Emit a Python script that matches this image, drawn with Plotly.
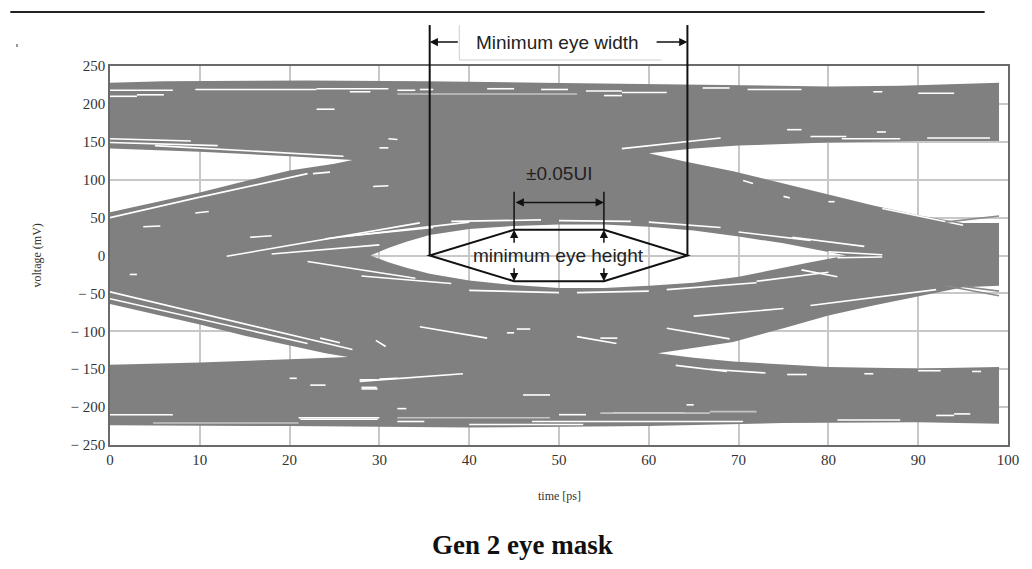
import plotly.graph_objects as go

# ---------------- axes ----------------
T_RANGE = [0, 100]
V_RANGE = [-250, 250]
X_TICKS = list(range(0, 101, 10))
Y_TICKS = [250, 200, 150, 100, 50, 0, -50, -100, -150, -200, -250]
Y_TICK_TEXT = ["250", "200", "150", "100", "50", "0",
               "\u2212 50", "\u2212 100", "\u2212 150", "\u2212 200", "\u2212 250"]

# ---------------- eye envelope (ps, mV) ----------------
TOP_T = [0, 6, 22, 35, 48, 60, 70, 80, 88, 95, 99]
TOP_V = [228, 230, 231, 230, 228, 226, 224, 223, 224, 227, 228]
BOT_T = [0, 20, 40, 60, 75, 90, 99]
BOT_V = [-224, -225, -227, -225, -221, -220, -222]

# top-left opening
W1_UP_T = [0, 10, 20, 27]
W1_UP_V = [141, 137, 131, 126]
W1_LO_T = [0, 5, 10, 15, 20, 25, 27]
W1_LO_V = [57, 70, 83, 98, 112, 121, 126]

# bottom-left opening
W2_UP_T = [0, 5, 10, 15, 20, 24, 26.5]
W2_UP_V = [-64, -78, -91, -106, -119, -129, -134]
W2_LO_T = [0, 10, 20, 26.5]
W2_LO_V = [-144, -141, -137, -134]

# central eye opening
W3_T = [29, 31, 33, 35.6, 40, 45, 50, 55, 60, 65, 70, 75, 78, 82]
W3_TOP = [0, 10, 18, 27, 35, 39, 41, 41, 38, 33, 25, 16, 9, 0]
W3_BOT = [0, -9, -16, -24, -33, -39, -43, -43, -40, -36, -28, -16, -9, 0]

# top-right opening
W4_UP_T = [60, 65, 70, 80, 90, 99]
W4_UP_V = [135, 141, 145, 149, 151, 151]
W4_LO_T = [60, 64, 69.4, 75, 80, 85, 90, 95, 99]
W4_LO_V = [135, 124, 111, 95, 80, 66, 53, 43, 43]

# bottom-right opening
W5_UP_T = [61, 65, 69.4, 75, 80, 85, 90, 95, 99]
W5_UP_V = [-129, -122, -114, -96, -79, -66, -54, -42, -40]
W5_LO_T = [61, 65, 69.4, 80, 90, 99]
W5_LO_V = [-129, -135, -140, -147, -149, -147]

# individual trace streaks (t0, v0, t1, v1)
WHITE_STREAKS = [
    (0, 218, 7, 218), (9.5, 219, 23, 219), (23, 220, 31, 220), (0, 210, 3, 210),
    (3, 212, 6, 212), (23, 193, 25, 193), (26.7, 216, 29, 216), (32, 218, 34, 218),
    (34.5, 219, 36, 219), (42, 220, 45, 220), (48, 219, 51, 219), (53, 217, 57, 217),
    (55, 211, 57, 211), (57, 215, 62, 215), (66, 221, 69, 221), (71, 219, 77, 219),
    (85, 216, 86, 216), (90, 214, 94, 214),
    (0, 154, 9, 151), (0, 149, 12, 145), (5, 145, 26, 131),
    (0, 50, 10, 77), (10, 77, 22, 108),
    (9.5, 56, 11, 58), (3.7, 38, 5.6, 39), (15.6, 24, 18, 26), (22.6, 108, 24.5, 110),
    (29.3, 91, 31, 92), (2.2, -25, 3, -25), (30, 142, 31, 142), (31, 154, 32, 153),
    (13, -1, 34.5, 43), (24, 22, 40, 44), (18, 2, 30, 14), (22, -8, 34, -30),
    (0, -48, 27, -124), (0, -57, 22, -116),
    (23.4, -109, 25.6, -115), (29.6, -112, 30.7, -120), (34.5, -94, 42, -109),
    (44.2, -102, 45, -102), (45.3, -97, 46.8, -97), (52, -107, 56.4, -116),
    (62, -96, 69, -110),
    (20, -162, 20.8, -162), (22.3, -171, 24, -171), (27.8, -164, 29.7, -164),
    (28, -174, 29.7, -174), (30, -163, 32, -162), (32, -202, 33, -202),
    (27.8, -166, 39.3, -156), (28, -176, 29.8, -176), (46, -184, 49, -184),
    (64.2, -197, 65, -197), (63, -145, 68.7, -153), (66.8, -150, 73, -155),
    (75.4, -157, 77.6, -157), (84, -156, 85, -156), (90, -152, 92.5, -152),
    (96, -153, 97, -153),
    (0, -210, 7, -210), (21, -214, 30, -214), (50, -210, 53, -210), (56, -208, 64, -208),
    (21.2, -216, 29.8, -216), (32, -219, 35, -219), (40, -223, 52.7, -223),
    (47, -219, 70.5, -219), (81, -217, 88, -217), (92, -211, 94, -211), (94, -209, 95.8, -209),
    (26, 25, 36, 37), (38, 45, 48, 47), (50, 46, 58, 45), (60, 44, 68, 37),
    (70, 31, 78, 20), (76, 24, 84, 12),
    (28, -27, 38, -37), (40, -46, 50, -49), (52, -49, 60, -47), (62, -45, 72, -36),
    (72, -34, 80, -22), (80, 5, 86, 1), (81, -3, 86, -2), (77, -19, 81, -28),
    (57, 141, 68, 155), (78, 157, 82, 157), (81.5, 154, 88, 154), (91, 155, 98, 155),
    (75.4, 166, 77, 166), (85.4, 163, 86.4, 163),
    (70.5, 99, 71.6, 95), (75, 78, 75.7, 76), (80, 71, 80.7, 71), (86, 62, 95, 40),
    (54.6, -109, 56.5, -109), (65, -80, 75, -70), (78, -66, 92, -45),
]
LIGHT_STREAKS = [
    (32, 213, 52, 213), (4.8, -221, 21, -221), (32, -214, 49, -214),
    (54.6, -208, 66.8, -208), (66.8, -206, 72, -206),
]
GREY_TAILS = [
    (93, -40, 99, -53), (95, -41, 99, -47), (93, 44, 99, 52),
]

# mask annotation values
EYE_WIDTH = (35.6, 64.3)
UI_WINDOW = (45.0, 55.0)
EYE_HALF_HEIGHT = 34
UI_ARROW_V = 70
UI_TICK_TOP = 84

GREY = "#808080"


def pts(ts, vs):
    return list(zip(ts, vs))


# single outline of the shaded area with the openings notched in
outline = []
outline += pts(TOP_T, TOP_V)
outline += pts(W4_UP_T, W4_UP_V)[::-1]
outline += pts(W4_LO_T, W4_LO_V)[1:]
outline += pts(W5_UP_T, W5_UP_V)[::-1]
outline += pts(W5_LO_T, W5_LO_V)[1:]
outline += pts(BOT_T, BOT_V)[::-1]
outline += pts(W2_LO_T, W2_LO_V)
outline += pts(W2_UP_T, W2_UP_V)[::-1][1:]
outline += pts(W1_LO_T, W1_LO_V)
outline += pts(W1_UP_T, W1_UP_V)[::-1][1:]

# central eye as a hole (opposite winding)
hole = pts(W3_T, W3_TOP)[::-1] + pts(W3_T, W3_BOT)[1:-1]

fx = [p[0] for p in outline] + [None] + [p[0] for p in hole]
fy = [p[1] for p in outline] + [None] + [p[1] for p in hole]


def seg_xy(segs):
    xs, ys = [], []
    for t0, v0, t1, v1 in segs:
        xs += [t0, t1, None]
        ys += [v0, v1, None]
    return xs, ys


fig = go.Figure()
fig.add_trace(go.Scatter(x=fx, y=fy, fill="toself", fillcolor=GREY, mode="lines",
                         line=dict(width=0, color=GREY), hoverinfo="skip", showlegend=False))
for segs, col, w in [(WHITE_STREAKS, "white", 1.6), (LIGHT_STREAKS, "#c4c4c4", 1.6),
                     (GREY_TAILS, "#8a8a8a", 1.6)]:
    sx, sy = seg_xy(segs)
    fig.add_trace(go.Scatter(x=sx, y=sy, mode="lines", line=dict(color=col, width=w),
                             hoverinfo="skip", showlegend=False))


def py(v):
    return (v - V_RANGE[0]) / (V_RANGE[1] - V_RANGE[0])


BLACK = "#111111"
shapes = []
# hexagonal mask
l, r = EYE_WIDTH
a, b = UI_WINDOW
h = EYE_HALF_HEIGHT
shapes.append(dict(type="path", xref="x", yref="y",
                   path=f"M {l},0 L {a},{h} L {b},{h} L {r},0 L {b},{-h} L {a},{-h} Z",
                   line=dict(color=BLACK, width=2), layer="above"))
# eye-width markers reaching above the plot
for t in EYE_WIDTH:
    shapes.append(dict(type="line", xref="x", yref="paper", x0=t, x1=t, y0=py(0), y1=1.108,
                       line=dict(color=BLACK, width=2), layer="above"))
# UI window markers
for t in UI_WINDOW:
    shapes.append(dict(type="line", xref="x", yref="y", x0=t, x1=t, y0=h, y1=UI_TICK_TOP,
                       line=dict(color=BLACK, width=1.5), layer="above"))
# label frame of the width callout
shapes.append(dict(type="path", xref="paper", yref="paper",
                   path="M 0.389,1.108 L 0.389,1.0158 L 0.614,1.0158",
                   line=dict(color="#cfcfcf", width=1), layer="above"))
# page rule and speck
shapes.append(dict(type="line", xref="paper", yref="paper", x0=-0.111, x1=0.974,
                   y0=1.1425, y1=1.1425, line=dict(color="#222222", width=2)))
shapes.append(dict(type="line", xref="paper", yref="paper", x0=-0.1036, x1=-0.1036,
                   y0=1.0500, y1=1.0580, line=dict(color="#777777", width=1.5)))

ANN_FONT = dict(family="Liberation Sans, Arial, sans-serif", size=19, color="#222222")
ARROW = dict(showarrow=True, arrowhead=2, arrowsize=1.1, arrowwidth=1.5, arrowcolor=BLACK, text="")
annotations = [
    dict(x=49.8, y=1.0633, xref="x", yref="paper", text="Minimum eye width",
         showarrow=False, font=ANN_FONT, xanchor="center", yanchor="middle"),
    dict(x=l, y=1.0633, xref="x", yref="paper", axref="x", ax=l + 3.3, ayref="pixel", ay=0, **ARROW),
    dict(x=r, y=1.0633, xref="x", yref="paper", axref="x", ax=r - 3.6, ayref="pixel", ay=0, **ARROW),
    dict(x=50, y=108, xref="x", yref="y", text="\u00b10.05UI", showarrow=False, font=ANN_FONT,
         xanchor="center", yanchor="middle"),
    dict(x=b, y=UI_ARROW_V, xref="x", yref="y", axref="x", ax=a, ayref="y", ay=UI_ARROW_V,
         arrowside="end+start", **ARROW),
    dict(x=49.9, y=0, xref="x", yref="y", text="minimum eye height", showarrow=False, font=ANN_FONT,
         xanchor="center", yanchor="middle"),
]
for t in UI_WINDOW:
    annotations.append(dict(x=t, y=h, xref="x", yref="y", axref="x", ax=t, ayref="y", ay=15, **ARROW))
    annotations.append(dict(x=t, y=-h, xref="x", yref="y", axref="x", ax=t, ayref="y", ay=-15, **ARROW))

SERIF = "Liberation Serif, Times New Roman, serif"
annotations += [
    dict(x=-0.0824, y=0.5, xref="paper", yref="paper", text="voltage (mV)", textangle=-90,
         showarrow=False, xanchor="center", yanchor="middle",
         font=dict(family=SERIF, size=12, color="#333333")),
    dict(x=0.5, y=-0.1346, xref="paper", yref="paper", text="time [ps]",
         showarrow=False, xanchor="center", yanchor="middle",
         font=dict(family=SERIF, size=12, color="#333333")),
    dict(x=0.4588, y=-0.2639, xref="paper", yref="paper", text="<b>Gen 2 eye mask</b>",
         showarrow=False, xanchor="center", yanchor="middle",
         font=dict(family=SERIF, size=27, color="#111111")),
]

fig.update_layout(
    width=1032, height=569,
    margin=dict(l=110, r=24, t=66, b=124),
    paper_bgcolor="white", plot_bgcolor="white",
    shapes=shapes, annotations=annotations,
    showlegend=False,
)
fig.update_xaxes(range=T_RANGE, tickvals=X_TICKS, ticktext=[str(t) for t in X_TICKS],
                 showgrid=True, gridcolor="#c8c8c8", gridwidth=1.5, zeroline=False,
                 showline=True, mirror=True, linecolor="#6a6a6a", linewidth=1.5,
                 ticks="", tickfont=dict(family=SERIF, size=15, color="#333333"))
fig.update_yaxes(range=V_RANGE, tickvals=Y_TICKS, ticktext=Y_TICK_TEXT,
                 showgrid=True, gridcolor="#c8c8c8", gridwidth=1.5, zeroline=False,
                 showline=True, mirror=True, linecolor="#6a6a6a", linewidth=1.5,
                 ticks="", tickfont=dict(family=SERIF, size=15, color="#333333"))

fig.write_html("out.html")
